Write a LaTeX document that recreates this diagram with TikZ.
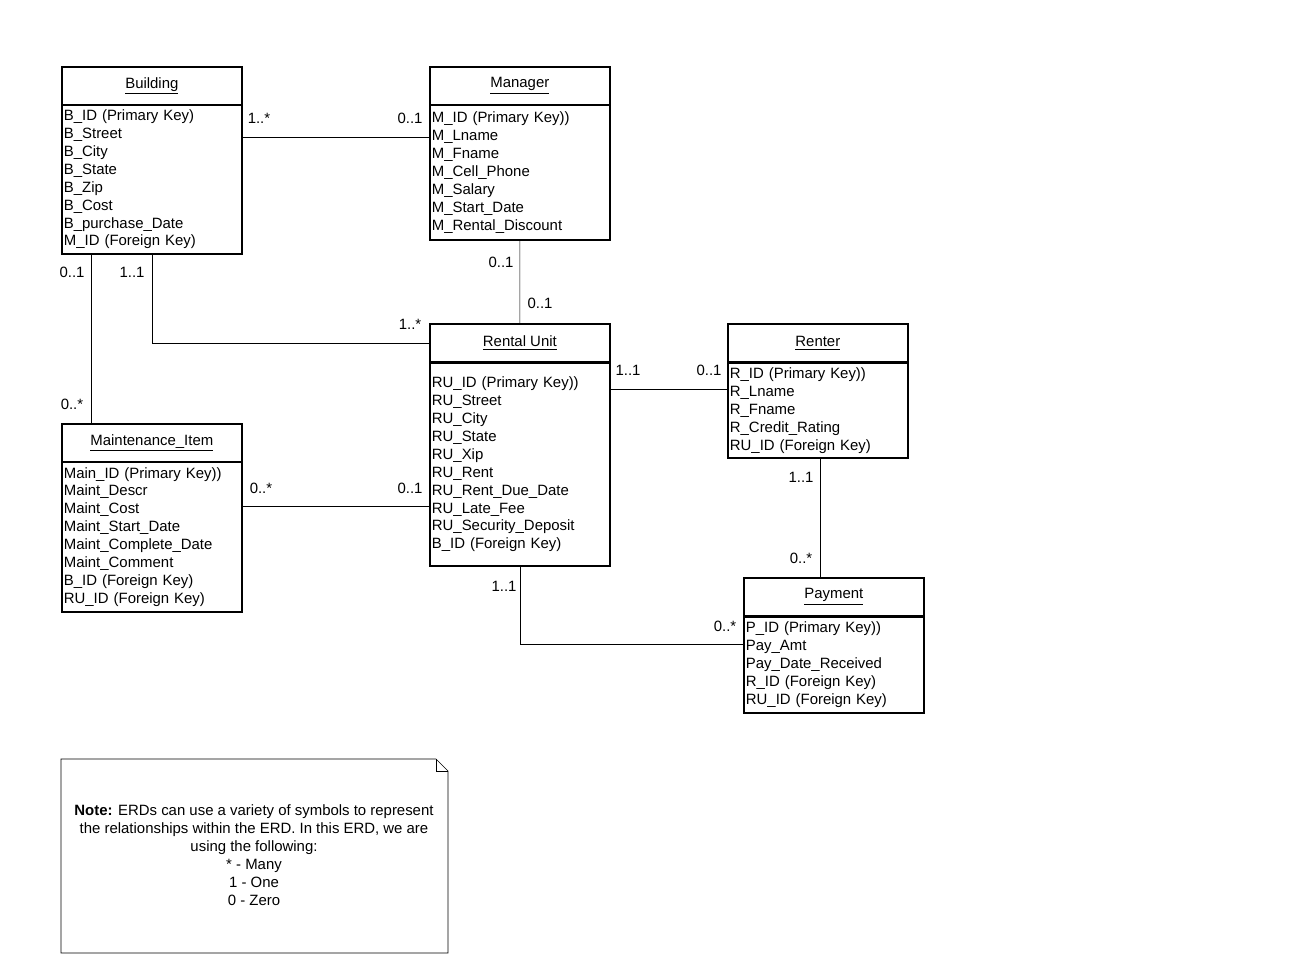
\documentclass[tikz,border=0pt]{standalone}
\usepackage{fontspec}
\setmainfont{Liberation Sans}
\usetikzlibrary{positioning}
\tikzset{
  ttl/.style={shape=rectangle,draw,line width=1pt,anchor=north west,minimum width=3.6cm,minimum height=0.77cm,inner sep=0pt,font=\fontsize{8.5}{10.2}\selectfont},
  bdy/.style={shape=rectangle,draw,line width=1pt,anchor=north west,text width=3.52cm,inner sep=0.04cm,align=left,font=\fontsize{8.5}{10.2}\selectfont},
  mul/.style={font=\fontsize{8.5}{10}\selectfont,inner sep=0pt}
}
\begin{document}
\begin{tikzpicture}[x=0.02cm,y=-0.02cm]
\useasboundingbox (0,0) rectangle (1298,976);
% entities
\path (61,66) node (bldt) [ttl] {\underline{Building}};
\path (61,104) node (bldb) [bdy,minimum height=2.98cm] {B\_ID (Primary Key)\\B\_Street\\B\_City\\B\_State\\B\_Zip\\B\_Cost\\B\_purchase\_Date\\M\_ID (Foreign Key)};
\path (429,66) node (mgrt) [ttl] {\underline{Manager}};
\path (429,104) node (mgrb) [bdy,minimum height=2.7cm] {M\_ID (Primary Key))\\M\_Lname\\M\_Fname\\M\_Cell\_Phone\\M\_Salary\\M\_Start\_Date\\M\_Rental\_Discount};
\path (429,323) node (rut) [ttl] {\underline{Rental Unit}};
\path (429,362) node (rub) [bdy,minimum height=4.06cm] {RU\_ID (Primary Key))\\RU\_Street\\RU\_City\\RU\_State\\RU\_Xip\\RU\_Rent\\RU\_Rent\_Due\_Date\\RU\_Late\_Fee\\RU\_Security\_Deposit\\B\_ID (Foreign Key)};
\path (727,323) node (rnt) [ttl] {\underline{Renter}};
\path (727,362) node (rnb) [bdy,minimum height=1.9cm] {R\_ID (Primary Key))\\R\_Lname\\R\_Fname\\R\_Credit\_Rating\\RU\_ID (Foreign Key)};
\path (61,423) node (mit) [ttl] {\underline{Maintenance\_Item}};
\path (61,461) node (mib) [bdy,minimum height=3cm] {Main\_ID (Primary Key))\\Maint\_Descr\\Maint\_Cost\\Maint\_Start\_Date\\Maint\_Complete\_Date\\Maint\_Comment\\B\_ID (Foreign Key)\\RU\_ID (Foreign Key)};
\path (743,577) node (payt) [ttl] {\underline{Payment}};
\path (743,616) node (payb) [bdy,minimum height=1.92cm] {P\_ID (Primary Key))\\Pay\_Amt\\Pay\_Date\_Received\\R\_ID (Foreign Key)\\RU\_ID (Foreign Key)};

% relationships
\draw (bldb.east |- 0,137) -- (mgrb.west |- 0,137);
\draw (mgrb.south) -- (rut.north);
\draw (bldb.south) |- (rut.west);
\draw (bldb.south -| 91,0) -- (mit.north -| 91,0);
\draw (rub.east |- 0,389) -- (rnb.west |- 0,389);
\draw (mib.east |- 0,506) -- (rub.west |- 0,506);
\draw (rnb.south -| 820,0) -- (payt.north -| 820,0);
\draw (rub.south) |- (payb.west |- 0,644);

% multiplicities
\path (259,118) node [mul] {1..*};
\path (410,118) node [mul] {0..1};
\path (501,262) node [mul] {0..1};
\path (540,303) node [mul] {0..1};
\path (132,272) node [mul] {1..1};
\path (410,324) node [mul] {1..*};
\path (72,272) node [mul] {0..1};
\path (72,404) node [mul] {0..*};
\path (628,370) node [mul] {1..1};
\path (709,370) node [mul] {0..1};
\path (261,488) node [mul] {0..*};
\path (410,488) node [mul] {0..1};
\path (801,477) node [mul] {1..1};
\path (801,558) node [mul] {0..*};
\path (504,586) node [mul] {1..1};
\path (725,626) node [mul] {0..*};

% note
\draw (61,759) -- (436,759) -- (448,771) -- (448,953) -- (61,953) -- cycle;
\draw (436,759) -- (436,771) -- (448,771);
\path (254,855) node (note) [align=center,font=\fontsize{8.5}{10.2}\selectfont] {\textbf{Note:} ERDs can use a variety of symbols to represent\\the relationships within the ERD.  In this ERD, we are\\using the following:\\* - Many\\1 - One\\0 - Zero};
\end{tikzpicture}
\end{document}
